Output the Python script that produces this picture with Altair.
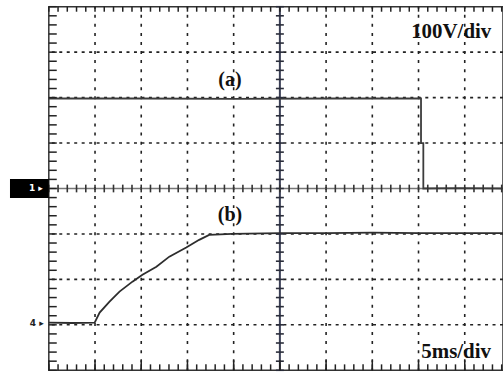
import altair as alt
import pandas as pd
import numpy as np

# Oscilloscope screen: 5 ms/div horizontally, 100 V/div vertically
X_MAX = 49.14          # visible part of the 10-division time window (ms)
Y_MIN, Y_MAX = -400.0, 400.0

# Trace (a)
T_A = [0.0, 10.0, 20.0, 30.0, 40.27, 40.27, 40.52, 40.52, 44.5, 49.14]
V_A = [198, 198, 197, 198, 198, 100, 100, 0, 1, 0]

# Trace (b)
T_B = [0.0, 2.5, 4.96, 5.50, 6.57, 7.65, 9.05, 10.13, 11.64, 13.04, 14.87,
       16.27, 17.35, 19.83, 25.0, 30.0, 35.0, 40.0, 45.0, 49.14]
V_B = [-295, -296, -295, -273, -249, -227, -205, -190, -172, -150, -130,
       -113, -102, -100, -98, -98, -97, -98, -98, -98]

GRID_T = [5, 10, 15, 20, 30, 35, 40, 45]
GRID_V = [-300, -200, -100, 100, 200, 300]
CENTER_T = 25.0
CENTER_V = 0.0

LABELS = ["(a)", "(b)"]
LABEL_T = [19.6, 19.6]
LABEL_V = [238, -58]

SCALE_TEXT = ["100V/div", "5ms/div"]
SCALE_T = [39.2, 40.3]
SCALE_V = [345, -360]

t_minor = [float(v) for v in np.arange(0, 49.5, 1.0)]
v_minor = [float(v) for v in np.arange(-400, 401, 20)]
t_major = [float(v) for v in np.arange(0, 49.5, 5.0)]

HALF_T = 0.43
LEFT_T = 0.86
HALF_V = 8.5
TOP_V = 11.0
BOT_V = 13.0
BOT_MAJOR_V = 22.0

xs = alt.Scale(domain=[0, X_MAX], nice=False, zero=False)
ys = alt.Scale(domain=[Y_MIN, Y_MAX], nice=False, zero=False)

def X(field="t"):
    return alt.X(f"{field}:Q", scale=xs, axis=None)

def Y(field="v"):
    return alt.Y(f"{field}:Q", scale=ys, axis=None)

INK = "#222"

grid_v = alt.Chart(pd.DataFrame({"t": GRID_T})).mark_rule(
    color=INK, strokeWidth=1.6, strokeDash=[3, 6.1], strokeDashOffset=1
).encode(x=X())

grid_h = alt.Chart(pd.DataFrame({"v": GRID_V})).mark_rule(
    color=INK, strokeWidth=1.6, strokeDash=[3, 4.5]
).encode(y=Y())

center_v = alt.Chart(pd.DataFrame({"t": [CENTER_T]})).mark_rule(
    color="#3a3f55", strokeWidth=2
).encode(x=X())

center_h = alt.Chart(pd.DataFrame({"v": [CENTER_V]})).mark_rule(
    color="#777", strokeWidth=1.3
).encode(y=Y())

# edge ticks
e_t, e_t2, e_v = [], [], []
for v in v_minor:
    e_t.append(0.0); e_t2.append(LEFT_T); e_v.append(v)
df_eh = pd.DataFrame({"tt": e_t, "tt2": e_t2, "vv": e_v})

f_t, f_v, f_v2 = [], [], []
for t in t_minor:
    f_t.append(t); f_v.append(Y_MAX - TOP_V); f_v2.append(Y_MAX)
    f_t.append(t); f_v.append(Y_MIN); f_v2.append(Y_MIN + BOT_V)
for t in t_major:
    f_t.append(t); f_v.append(Y_MIN); f_v2.append(Y_MIN + BOT_MAJOR_V)
df_ev = pd.DataFrame({"tt": f_t, "vv": f_v, "vv2": f_v2})

ticks_eh = alt.Chart(df_eh).mark_rule(color=INK, strokeWidth=1.5).encode(
    x=X("tt"), x2="tt2:Q", y=Y("vv"))
ticks_ev = alt.Chart(df_ev).mark_rule(color=INK, strokeWidth=1.5).encode(
    x=X("tt"), y=Y("vv"), y2="vv2:Q")

# crosshair ticks
df_cv = pd.DataFrame({
    "ct": [CENTER_T - HALF_T] * len(v_minor),
    "ct2": [CENTER_T + HALF_T] * len(v_minor),
    "cv": v_minor,
})
df_ch = pd.DataFrame({
    "ct": t_minor,
    "cv": [CENTER_V - HALF_V] * len(t_minor),
    "cv2": [CENTER_V + HALF_V] * len(t_minor),
})
ticks_cv = alt.Chart(df_cv).mark_rule(color="#2a2d3a", strokeWidth=1.6).encode(
    x=X("ct"), x2="ct2:Q", y=Y("cv"))
ticks_ch = alt.Chart(df_ch).mark_rule(color="#333", strokeWidth=1.6).encode(
    x=X("ct"), y=Y("cv"), y2="cv2:Q")

trace_a = alt.Chart(pd.DataFrame({"t": T_A, "v": V_A, "i": list(range(len(T_A)))})).mark_line(
    color="#3c3c3c", strokeWidth=1.8
).encode(x=X(), y=Y(), order="i:O")

trace_b = alt.Chart(pd.DataFrame({"t": T_B, "v": V_B, "i": list(range(len(T_B)))})).mark_line(
    color="#2d2d2d", strokeWidth=1.8
).encode(x=X(), y=Y(), order="i:O")

labels = alt.Chart(pd.DataFrame({"t": LABEL_T, "v": LABEL_V, "s": LABELS})).mark_text(
    font="Liberation Serif", fontWeight="bold", fontSize=20, color="#111",
    align="center", baseline="middle"
).encode(x=X(), y=Y(), text="s:N")

scale_txt = alt.Chart(pd.DataFrame({"t": SCALE_T, "v": SCALE_V, "s": SCALE_TEXT})).mark_text(
    font="Liberation Serif", fontWeight="bold", fontSize=21, color="#111",
    align="left", baseline="middle"
).encode(x=X(), y=Y(), text="s:N")

marker_box = alt.Chart(pd.DataFrame({"mt": [-4.2], "mt2": [0.0], "mv": [21], "mv2": [-21]})).mark_rect(
    color="#000"
).encode(x=X("mt"), x2="mt2:Q", y=Y("mv"), y2="mv2:Q")

marker1 = alt.Chart(pd.DataFrame({"t": [-1.4], "v": [0], "s": ["1 ▸"]})).mark_text(
    font="DejaVu Sans", fontWeight="bold", fontSize=9, color="#fff", align="center", baseline="middle"
).encode(x=X(), y=Y(), text="s:N")

marker4 = alt.Chart(pd.DataFrame({"t": [-1.3], "v": [-295], "s": ["4 ▸"]})).mark_text(
    font="DejaVu Sans", fontWeight="bold", fontSize=9, color="#222", align="center", baseline="middle"
).encode(x=X(), y=Y(), text="s:N")

chart = alt.layer(
    grid_v, grid_h, center_v, center_h,
    trace_a, trace_b, ticks_cv, ticks_ch, ticks_eh, ticks_ev,
    labels, scale_txt, marker_box, marker1, marker4,
).properties(
    width=456, height=365,
    autosize=alt.AutoSizeParams(type="none"),
    padding={"left": 49, "top": 6, "right": 0, "bottom": 2},
    background="white",
).configure_view(stroke="#333", strokeWidth=1.5)

chart.save("out.html", embed_options={"renderer": "svg", "actions": False})
